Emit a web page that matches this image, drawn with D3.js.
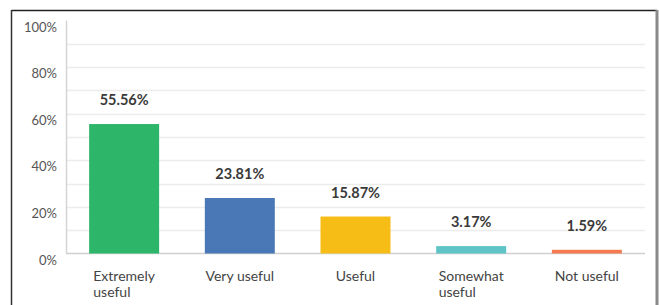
<!DOCTYPE html>
<html>
<head>
<meta charset="utf-8">
<script src="https://cdn.jsdelivr.net/npm/d3@7"></script>
<style>
  body { margin: 0; background: #fff; }
  svg { display: block; }
</style>
</head>
<body>
<div id="chart"></div>
<script>
const width = 659;
const height = 305;

// data
const categories = ["Extremely useful", "Very useful", "Useful", "Somewhat useful", "Not useful"];
const categoryLines = [["Extremely", "useful"], ["Very useful"], ["Useful"], ["Somewhat", "useful"], ["Not useful"]];
const values = [55.56, 23.81, 15.87, 3.17, 1.59];
const barColors = ["#2db56a", "#4a78b6", "#f6bd16", "#5ec4c6", "#f37b4f"];
const yTicks = [0, 20, 40, 60, 80, 100];
const gridTicks = [10, 20, 30, 40, 50, 60, 70, 80, 90];

const font = "Lato, 'Open Sans', sans-serif";

const svg = d3.select("#chart").append("svg")
    .attr("width", width)
    .attr("height", height);

// frame
svg.append("line")
    .attr("x1", 11.5).attr("y1", 10.5).attr("x2", 657).attr("y2", 10.5)
    .style("stroke", "#222").style("stroke-width", 1.5);
svg.append("line")
    .attr("x1", 11.5).attr("y1", 10).attr("x2", 11.5).attr("y2", height)
    .style("stroke", "#333").style("stroke-width", 1.5);
svg.append("line")
    .attr("x1", 657).attr("y1", 10).attr("x2", 657).attr("y2", height)
    .style("stroke", "#8a8a8a").style("stroke-width", 3);

const x = d3.scaleBand()
    .domain(categories)
    .range([66, 645])
    .paddingInner(0.395)
    .paddingOuter(0.2);

const y = d3.scaleLinear()
    .domain([0, 100])
    .range([253.5, 20.5]);

// gridlines
svg.append("g")
    .selectAll("line")
    .data(gridTicks)
    .enter().append("line")
    .attr("x1", 67)
    .attr("x2", 645)
    .attr("y1", d => Math.round(y(d)) + 0.5)
    .attr("y2", d => Math.round(y(d)) + 0.5)
    .style("stroke", "#ececec")
    .style("stroke-width", 1.5);

// y axis line
svg.append("line")
    .attr("x1", 66.5).attr("x2", 66.5)
    .attr("y1", y(100)).attr("y2", y(0))
    .style("stroke", "#d4d4d4").style("stroke-width", 1.5);

// baseline
svg.append("line")
    .attr("x1", 66).attr("x2", 645)
    .attr("y1", y(0)).attr("y2", y(0))
    .style("stroke", "#d0d0d0").style("stroke-width", 1.5);

// y tick labels (sit below their value line)
svg.append("g")
    .selectAll("text")
    .data(yTicks)
    .enter().append("text")
    .attr("x", 57)
    .attr("y", d => y(d) + 11)
    .attr("text-anchor", "end")
    .style("font-family", font)
    .style("font-size", "13px")
    .style("fill", "#555")
    .text(d => d + "%");

// bars
svg.append("g")
    .selectAll("rect")
    .data(values)
    .enter().append("rect")
    .attr("x", (d, i) => x(categories[i]))
    .attr("y", d => y(d))
    .attr("width", x.bandwidth())
    .attr("height", d => y(0) - y(d))
    .style("fill", (d, i) => barColors[i]);

// value labels
svg.append("g")
    .selectAll("text")
    .data(values)
    .enter().append("text")
    .attr("x", (d, i) => x(categories[i]) + x.bandwidth() / 2)
    .attr("y", d => y(d) - 19)
    .attr("text-anchor", "middle")
    .style("font-family", font)
    .style("font-size", "14.5px")
    .style("font-weight", "bold")
    .style("fill", "#3a3a3a")
    .text(d => d.toFixed(2) + "%");

// category labels, block centred under bar, lines left aligned
const catGroup = svg.append("g");
categoryLines.forEach(function(lines, i) {
    const cx = x(categories[i]) + x.bandwidth() / 2;
    const t = catGroup.append("text")
        .style("font-family", font)
        .style("font-size", "14px")
        .style("fill", "#444");
    lines.forEach(function(line, j) {
        t.append("tspan")
            .attr("y", 281 + j * 16)
            .text(line);
    });
    let maxW = 0;
    t.selectAll("tspan").each(function() {
        maxW = Math.max(maxW, this.getComputedTextLength());
    });
    t.selectAll("tspan").attr("x", cx - maxW / 2);
});
</script>
</body>
</html>
